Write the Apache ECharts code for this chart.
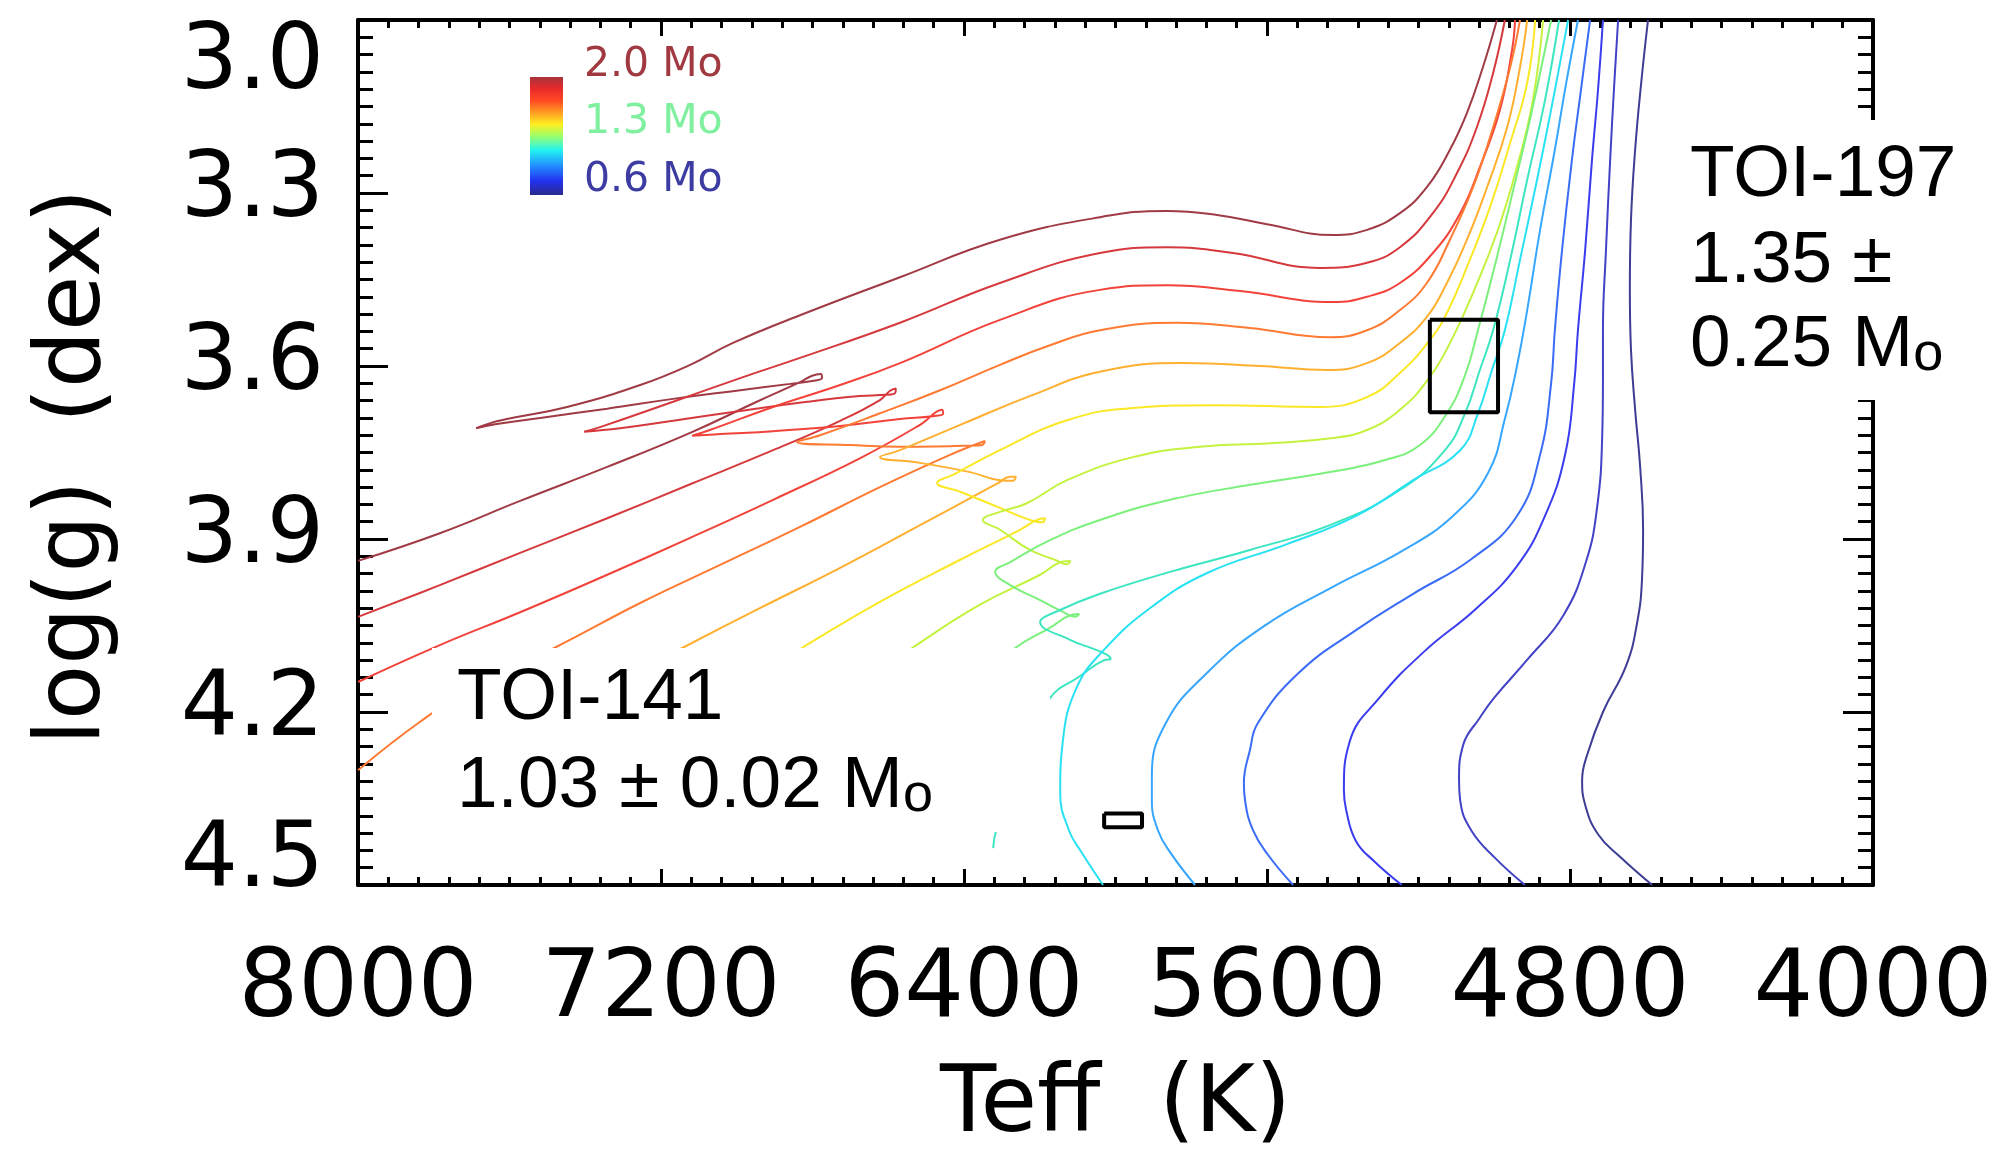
<!DOCTYPE html>
<html><head><meta charset="utf-8">
<script src="https://cdn.jsdelivr.net/npm/echarts@6/dist/echarts.min.js"></script>
<style>html,body{margin:0;padding:0;background:#fff}#c{width:1992px;height:1164px}</style>
</head><body><div id="c"></div>
<script>
// ---- data: evolutionary tracks [Teff (K), log g (dex)] ----
const masses = [2.0, 1.9, 1.8, 1.7, 1.6, 1.5, 1.4, 1.3, 1.2, 1.1, 1.0, 0.9, 0.8, 0.7, 0.6];
const xTicks = [8000, 7200, 6400, 5600, 4800, 4000];
const yTicks = [3.0, 3.3, 3.6, 3.9, 4.2, 4.5];

const trackM20 = [[8000,3.938],[7784,3.890],[7572,3.834],[7342,3.775],[7123,3.716],[6947,3.662],[6833,3.628],[6801,3.617],[6778,3.614],
  [6775,3.621],[6801,3.626],[6859,3.631],[6991,3.642],[7168,3.657],[7342,3.674],[7519,3.690],[7638,3.701],[7688,3.708],
  [7651,3.699],[7607,3.692],[7448,3.671],[7255,3.633],[7123,3.598],[7010,3.560],[6833,3.512],[6569,3.446],[6305,3.381],
  [6041,3.342],[5864,3.331],[5732,3.338],[5600,3.354],[5426,3.373],[5336,3.364],[5249,3.335],[5178,3.290],[5117,3.225],
  [5072,3.161],[5030,3.082],[4993,3.000]];
const trackM19 = [[8000,4.035],[7784,3.980],[7572,3.924],[7342,3.864],[7123,3.805],[6904,3.746],[6727,3.695],[6622,3.659],[6595,3.643],
  [6580,3.639],[6582,3.647],[6608,3.650],[6675,3.652],[6814,3.662],[6991,3.678],[7168,3.695],[7308,3.708],[7403,3.714],
  [7361,3.706],[7168,3.662],[6991,3.621],[6833,3.586],[6569,3.525],[6305,3.456],[6041,3.404],[5864,3.394],[5690,3.404],
  [5460,3.430],[5336,3.421],[5249,3.394],[5162,3.335],[5098,3.265],[5046,3.186],[5003,3.092],[4972,3.000]];
const trackM18 = [[8000,4.148],[7784,4.084],[7572,4.027],[7342,3.962],[7123,3.898],[6904,3.832],[6675,3.760],[6516,3.702],[6458,3.676],
  [6455,3.683],[6482,3.687],[6569,3.692],[6727,3.704],[6904,3.713],[7044,3.718],[7118,3.721],
  [7071,3.711],[6904,3.671],[6727,3.633],[6569,3.595],[6305,3.520],[6041,3.468],[5864,3.460],[5671,3.470],[5426,3.489],
  [5336,3.480],[5249,3.456],[5162,3.404],[5090,3.335],[5038,3.255],[4985,3.156],[4953,3.052],[4945,3.000]];
const trackM17 = [[8000,4.301],[7836,4.217],[7678,4.150],[7482,4.089],[7255,4.011],[7044,3.945],[6833,3.879],[6622,3.810],[6437,3.754],[6345,3.730],
  [6352,3.737],[6371,3.738],[6437,3.739],[6569,3.740],[6701,3.737],[6841,3.732],
  [6780,3.720],[6622,3.682],[6463,3.642],[6305,3.598],[6173,3.564],[6041,3.538],[5838,3.525],[5645,3.534],[5434,3.550],
  [5336,3.538],[5249,3.503],[5178,3.456],[5117,3.381],[5056,3.290],[5003,3.186],[4958,3.082],[4932,3.000]];
const trackM16 = [[7467,4.200],[7144,4.089],[6939,4.020],[6727,3.950],[6516,3.876],[6358,3.820],[6310,3.803],[6278,3.792],
  [6263,3.792],[6271,3.799],[6305,3.798],[6384,3.784],[6516,3.768],[6622,3.758],
  [6569,3.746],[6410,3.702],[6218,3.650],[6041,3.610],[5822,3.595],[5618,3.600],[5442,3.607],[5336,3.595],[5249,3.560],
  [5178,3.515],[5125,3.456],[5072,3.381],[5019,3.290],[4966,3.186],[4932,3.082],[4913,3.000]];
const trackM15 = [[7044,4.179],[6828,4.089],[6622,4.009],[6410,3.936],[6252,3.884],[6204,3.866],[6186,3.864],
  [6193,3.871],[6230,3.866],[6305,3.846],[6410,3.818],[6471,3.803],
  [6424,3.787],[6305,3.746],[6128,3.694],[5954,3.673],[5732,3.668],[5460,3.671],[5336,3.654],[5249,3.612],[5170,3.555],
  [5125,3.508],[5072,3.428],[5011,3.324],[4958,3.213],[4913,3.109],[4892,3.000]];
const trackM14 = [[6701,4.162],[6537,4.089],[6358,4.014],[6199,3.962],[6138,3.939],[6119,3.938],
  [6128,3.944],[6160,3.936],[6226,3.919],[6305,3.884],[6350,3.867],
  [6305,3.853],[6234,3.838],[6128,3.798],[5954,3.758],[5777,3.740],[5592,3.734],[5426,3.725],[5336,3.711],[5249,3.676],
  [5170,3.619],[5109,3.550],[5056,3.473],[4993,3.369],[4940,3.255],[4898,3.139],[4871,3.000]];
const trackM13 = [[6437,4.179],[6265,4.089],[6173,4.054],[6112,4.031],[6096,4.030],
  [6106,4.035],[6140,4.026],[6199,4.006],[6278,3.980],[6318,3.957],
  [6278,3.940],[6173,3.902],[6041,3.867],[5856,3.832],[5645,3.806],[5434,3.784],[5288,3.763],[5196,3.737],[5125,3.682],
  [5077,3.616],[5043,3.538],[4998,3.425],[4950,3.295],[4900,3.156],[4850,3.000]];
const trackM12 = [[6323,4.436],[6315,4.405],[6252,4.283],[6173,4.176],[6094,4.138],[6030,4.110],[6013,4.108],
  [6022,4.101],[6060,4.090],[6120,4.075],[6199,4.044],
  [6160,4.027],[6041,3.995],[5856,3.957],[5645,3.919],[5434,3.876],[5249,3.815],[5130,3.746],[5077,3.682],[5038,3.607],
  [5003,3.538],[4958,3.416],[4913,3.277],[4866,3.139],[4829,3.000]];
const trackM11 = [[6033,4.500],[6094,4.439],[6123,4.405],[6146,4.342],[6139,4.250],[6102,4.157],[6033,4.094],[5911,4.021],
  [5758,3.959],[5547,3.909],[5365,3.860],[5214,3.798],[5090,3.746],[5043,3.682],[5006,3.607],[4972,3.538],[4932,3.416],
  [4887,3.277],[4845,3.139],[4805,3.000]];
const trackM10 = [[5790,4.500],[5856,4.443],[5888,4.405],[5904,4.353],[5904,4.311],[5867,4.219],[5758,4.132],[5608,4.051],
  [5426,3.983],[5244,3.921],[5109,3.860],[5016,3.785],[4972,3.692],[4940,3.600],[4913,3.503],[4879,3.364],[4840,3.225],
  [4811,3.113],[4779,3.000]];
const trackM09 = [[5531,4.500],[5597,4.448],[5637,4.405],[5658,4.353],[5661,4.323],[5645,4.266],[5624,4.219],[5516,4.132],
  [5365,4.058],[5214,3.995],[5061,3.935],[4940,3.860],[4879,3.754],[4850,3.631],[4840,3.538],[4821,3.399],[4795,3.243],
  [4771,3.121],[4747,3.000]];
const trackM08 = [[5244,4.500],[5315,4.460],[5365,4.424],[5391,4.370],[5397,4.335],[5381,4.250],[5304,4.176],[5183,4.094],
  [5048,4.021],[4940,3.947],[4866,3.860],[4813,3.754],[4789,3.631],[4779,3.538],[4760,3.399],[4742,3.243],[4726,3.121],
  [4713,3.000]];
const trackM07 = [[4919,4.500],[4998,4.453],[5061,4.405],[5090,4.353],[5093,4.318],[5082,4.257],[5038,4.210],[5001,4.176],
  [4911,4.108],[4818,4.033],[4758,3.940],[4729,3.848],[4715,3.723],[4713,3.624],[4713,3.538],[4705,3.399],[4694,3.243],
  [4684,3.121],[4673,3.000]];
const trackM06 = [[4583,4.500],[4668,4.451],[4726,4.412],[4760,4.361],[4768,4.318],[4755,4.275],[4713,4.200],[4652,4.120],
  [4623,4.046],[4610,3.971],[4607,3.884],[4615,3.773],[4628,3.676],[4639,3.572],[4642,3.468],[4639,3.347],[4628,3.225],
  [4612,3.109],[4594,3.000]];

// stars: [Teff, dTeff, logg, dlogg]
const toi197 = [5080, 90, 3.60, 0.08];
const toi141 = [5980, 50, 4.388, 0.012];

const tracks = [trackM20, trackM19, trackM18, trackM17, trackM16, trackM15, trackM14, trackM13,
                trackM12, trackM11, trackM10, trackM09, trackM08, trackM07, trackM06];

// ---- styles ----
const trackColors = ['#a03a44','#d6393d','#f2433a','#ff7a32','#ffb030','#fbe825','#c4f23e','#7cf07c',
                     '#3ce6c0','#28e2f4','#36a6ff','#3a6cf6','#3a3cef','#4242c6','#3d3d94'];

function boxCorners(s) {
  const [t, dt, g, dg] = s;
  return [[t + dt, g - dg], [t - dt, g - dg], [t - dt, g + dg], [t + dt, g + dg], [t + dt, g - dg]];
}

const chart = echarts.init(document.getElementById('c'), null, {renderer: 'canvas'});
const FONT = 'DejaVu Sans';
const xBase = {
  type: 'value', min: 4000, max: 8000, interval: 800, inverse: true,
  axisLine: {show: true, onZero: false, lineStyle: {color: '#000', width: 4}},
  axisTick: {show: true, inside: true, length: 16, lineStyle: {color: '#000', width: 3}},
  minorTick: {show: true, splitNumber: 10, length: 8, lineStyle: {color: '#000', width: 3}},
  splitLine: {show: false}
};
const yBase = {
  type: 'value', min: 3.0, max: 4.5, interval: 0.3, inverse: true,
  axisLine: {show: true, onZero: false, lineStyle: {color: '#000', width: 4}},
  axisTick: {show: true, inside: true, length: 30, lineStyle: {color: '#000', width: 3}},
  minorTick: {show: true, splitNumber: 10, length: 15, lineStyle: {color: '#000', width: 3}},
  splitLine: {show: false}
};

const series = tracks.map((d, i) => ({
  name: masses[i].toFixed(1) + ' Mo', type: 'line', data: d, showSymbol: false, symbol: 'none',
  smooth: 0.45, silent: true, z: 3,
  lineStyle: {width: 2, color: trackColors[i]}
}));
[toi197, toi141].forEach(s => series.push({
  type: 'line', data: boxCorners(s), showSymbol: false, symbol: 'none', silent: true, z: 5,
  lineStyle: {width: 4, color: '#000'}
}));

const option = {
  animation: false,
  backgroundColor: '#fff',
  grid: {left: 358, right: 119, top: 20, bottom: 279, containLabel: false, outerBoundsMode: 'none'},
  xAxis: [
    Object.assign({}, xBase, {
      position: 'bottom',
      axisLabel: {show: true, margin: 60, fontSize: 94, fontFamily: FONT, color: '#000',
        formatter: v => xTicks.includes(v) ? String(v) : ''},
      name: 'Teff  (K)', nameLocation: 'middle', nameGap: 176,
      nameTextStyle: {fontSize: 92, fontFamily: FONT, color: '#000'}
    }),
    Object.assign({}, xBase, {position: 'top', axisLabel: {show: false}})
  ],
  yAxis: [
    Object.assign({}, yBase, {
      position: 'left',
      axisLabel: {show: true, margin: 34, fontSize: 90, fontFamily: FONT, color: '#000',
        verticalAlignMinLabel: 'top', verticalAlignMaxLabel: 'middle',
        formatter: v => {
          const r = Math.round(v * 10) / 10;
          if (!yTicks.includes(r)) return '';
          const s = r.toFixed(1);
          return r === yTicks[yTicks.length - 1] ? '{m|' + s + '}' : s;
        },
        rich: {m: {fontSize: 90, fontFamily: FONT, color: '#000', padding: [0, 0, 44, 0]}}},
      name: 'log(g)  (dex) ', nameLocation: 'middle', nameGap: 237, nameRotate: 90,
      nameTextStyle: {fontSize: 90, fontFamily: FONT, color: '#000'}
    }),
    Object.assign({}, yBase, {position: 'right', axisLabel: {show: false}})
  ],
  series: series,
  graphic: [
    // colour bar legend
    {type: 'rect', z: 50, shape: {x: 530, y: 77, width: 33, height: 118},
      style: {fill: new echarts.graphic.LinearGradient(0, 0, 0, 1, [
        {offset: 0, color: '#a8333c'}, {offset: 0.1, color: '#e82a2a'}, {offset: 0.2, color: '#ff4a22'},
        {offset: 0.3, color: '#ff9c22'}, {offset: 0.4, color: '#ffee22'}, {offset: 0.5, color: '#9cff6a'},
        {offset: 0.62, color: '#22f4f0'}, {offset: 0.75, color: '#2290ff'}, {offset: 0.88, color: '#2232f0'},
        {offset: 1, color: '#2a2a8c'}])}},
    {type: 'text', z: 50, x: 584, y: 65, style: {text: masses[0].toFixed(1) + ' Mo', fill: '#a03a40', fontSize: 41, fontFamily: FONT, align: 'left', verticalAlign: 'middle'}},
    {type: 'text', z: 50, x: 584, y: 122, style: {text: masses[7].toFixed(1) + ' Mo', fill: '#80f0a0', fontSize: 41, fontFamily: FONT, align: 'left', verticalAlign: 'middle'}},
    {type: 'text', z: 50, x: 584, y: 180, style: {text: masses[14].toFixed(1) + ' Mo', fill: '#3c3ca2', fontSize: 41, fontFamily: FONT, align: 'left', verticalAlign: 'middle'}},
    // TOI-141 label
    {type: 'rect', z: 100, shape: {x: 432, y: 648, width: 618, height: 184}, style: {fill: '#fff'}},
    {type: 'text', z: 101, x: 457, y: 699, style: {text: 'TOI-141', fill: '#000', fontSize: 73, fontFamily: 'Liberation Sans', align: 'left', verticalAlign: 'middle'}},
    {type: 'text', z: 101, x: 457, y: 787, style: {text: '{a|1.03 ± 0.02 M}{b|o}', align: 'left', verticalAlign: 'middle',
      rich: {a: {fontSize: 73, fontFamily: 'Liberation Sans', fill: '#000', lineHeight: 73, verticalAlign: 'bottom'},
             b: {fontSize: 54, fontFamily: 'Liberation Sans', fill: '#000', lineHeight: 54, verticalAlign: 'bottom'}}}},
    // TOI-197 label
    {type: 'rect', z: 100, shape: {x: 1665, y: 120, width: 327, height: 280}, style: {fill: '#fff'}},
    {type: 'text', z: 101, x: 1690, y: 176, style: {text: 'TOI-197', fill: '#000', fontSize: 73, fontFamily: 'Liberation Sans', align: 'left', verticalAlign: 'middle'}},
    {type: 'text', z: 101, x: 1690, y: 262, style: {text: '1.35 ±', fill: '#000', fontSize: 73, fontFamily: 'Liberation Sans', align: 'left', verticalAlign: 'middle'}},
    {type: 'text', z: 101, x: 1690, y: 346, style: {text: '{a|0.25 M}{b|o}', align: 'left', verticalAlign: 'middle',
      rich: {a: {fontSize: 73, fontFamily: 'Liberation Sans', fill: '#000', lineHeight: 73, verticalAlign: 'bottom'},
             b: {fontSize: 54, fontFamily: 'Liberation Sans', fill: '#000', lineHeight: 54, verticalAlign: 'bottom'}}}}
  ]
};
chart.setOption(option);
</script></body></html>
